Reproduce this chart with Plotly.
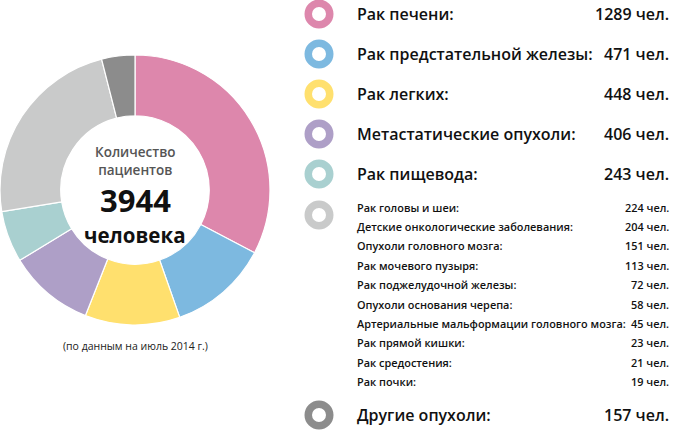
import plotly.graph_objects as go

# main groups (drawn as separate slices)
main_labels = ["Рак печени:", "Рак предстательной железы:", "Рак легких:",
               "Метастатические опухоли:", "Рак пищевода:"]
main_values = [1289, 471, 448, 406, 243]
main_colors = ["#DD87AC", "#7DB9E0", "#FFE06E", "#AE9FC7", "#A9D0D0"]

# smaller groups, shown as one light grey slice
small_labels = ["Рак головы и шеи:", "Детские онкологические заболевания:",
                "Опухоли головного мозга:", "Рак мочевого пузыря:",
                "Рак поджелудочной железы:", "Опухоли основания черепа:",
                "Артериальные мальформации головного мозга:", "Рак прямой кишки:",
                "Рак средостения:", "Рак почки:"]
small_values = [224, 204, 151, 113, 72, 58, 45, 23, 21, 19]
small_color = "#C9CACA"

other_label = "Другие опухоли:"
other_value = 157
other_color = "#8C8C8C"

total = sum(main_values) + sum(small_values) + other_value
unit = " чел."

W, H = 673, 433
FONT = "Open Sans, Noto Sans, sans-serif"

pie_vals = main_values + [sum(small_values), other_value]
pie_cols = main_colors + [small_color, other_color]

fig = go.Figure()

# donut: centre (135,190), radius 135
cx, cy, r = 135, 190, 135
fig.add_trace(go.Pie(
    values=pie_vals,
    marker=dict(colors=pie_cols, line=dict(color="white", width=1.2)),
    hole=0.55, sort=False, direction="clockwise", rotation=0,
    textinfo="none", hoverinfo="skip", showlegend=False,
    domain=dict(x=[(cx - r) / W, (cx + r) / W],
                y=[(H - cy - r) / H, (H - cy + r) / H]),
))

# legend rows (pixel positions)
ring_x = 319
text_x = 355
val_x = 671
big_y = [14 + 40 * i for i in range(len(main_values))]
small_y = [207 + 19.4 * i for i in range(len(small_values))]
other_y = 415
small_ring_y = 215

ring_y = big_y + [small_ring_y, other_y]
fig.add_trace(go.Scatter(
    x=[ring_x] * len(ring_y), y=ring_y, mode="markers",
    marker=dict(symbol="circle", size=21.5, color="white",
                line=dict(color=pie_cols, width=7.5)),
    hoverinfo="skip", showlegend=False,
))

ann = []


def row(y, label, value, size):
    ann.append(dict(x=text_x, y=y, text=label, xanchor="left", yanchor="middle",
                    font=dict(size=size, color="#111", family=FONT, weight=600)))
    ann.append(dict(x=val_x, y=y, text=f"{value}{unit}", xanchor="right", yanchor="middle",
                    font=dict(size=size, color="#111", family=FONT, weight=600)))


for y, lab, v in zip(big_y, main_labels, main_values):
    row(y, lab, v, 16)
for y, lab, v in zip(small_y, small_labels, small_values):
    row(y, lab, v, 10.9)
row(other_y, other_label, other_value, 16)

# centre text
ann += [
    dict(x=cx, y=161, text="Количество<br>пациентов",
         font=dict(size=13.5, color="#555", family=FONT, weight=600)),
    dict(x=cx, y=200, text=str(total), font=dict(size=31, color="#111", family=FONT, weight=700)),
    dict(x=cx, y=235, text="человека", font=dict(size=20.5, color="#111", family=FONT, weight=700)),
    dict(x=cx, y=346, text="(по данным на июль 2014 г.)", font=dict(size=10.5, color="#222", family=FONT)),
]
for a in ann:
    a.setdefault("xanchor", "center")
    a.setdefault("yanchor", "middle")
    a.update(xref="x", yref="y", showarrow=False)

fig.update_layout(
    width=W, height=H, margin=dict(l=0, r=0, t=0, b=0),
    paper_bgcolor="white", plot_bgcolor="rgba(0,0,0,0)",
    xaxis=dict(range=[0, W], visible=False, fixedrange=True),
    yaxis=dict(range=[H, 0], visible=False, fixedrange=True),
    annotations=ann,
)

fig.write_html("out.html", config=dict(displayModeBar=False),
               post_script="document.body.style.margin='0';")
